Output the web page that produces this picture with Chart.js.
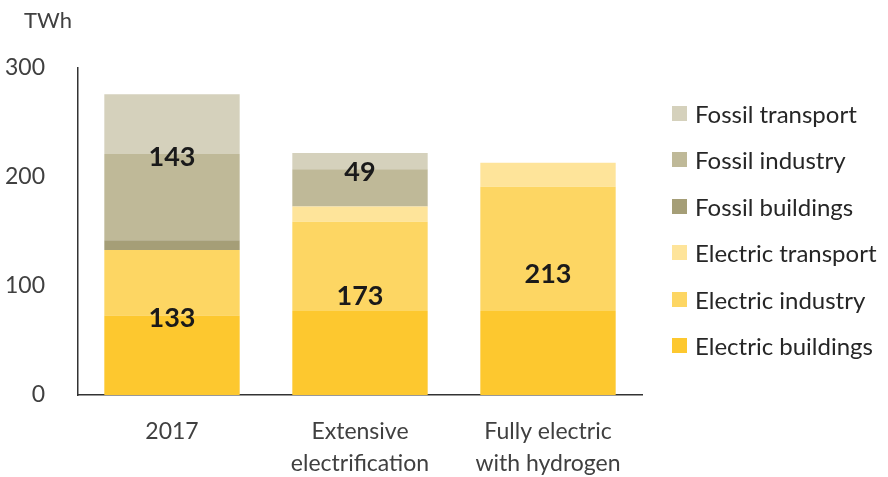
<!DOCTYPE html>
<html>
<head>
<meta charset="utf-8">
<script src="https://cdn.jsdelivr.net/npm/chart.js@4.4.1/dist/chart.umd.min.js"></script>
<style>
  html, body { margin: 0; padding: 0; background: #fff; }
  #wrap { position: relative; width: 888px; height: 477px; font-family: Lato, "Open Sans", sans-serif; }
  #legend { position: absolute; left: 672px; top: 90px; }
  .item { display: flex; align-items: center; height: 46.5px; font-size: 24px; color: #262626; white-space: nowrap; }
  .box { width: 15px; height: 15px; margin-right: 8px; }
</style>
</head>
<body>
<div id="wrap">
  <canvas id="chart"></canvas>
  <div id="legend"></div>
</div>
<script>
const categories = [['2017'], ['Extensive', 'electrification'], ['Fully electric', 'with hydrogen']];

const electricBuildings = [73, 77, 77];
const electricIndustry  = [60, 82, 114];
const electricTransport = [0, 14, 22];
const fossilBuildings   = [9, 0, 0];
const fossilIndustry    = [79, 34, 0];
const fossilTransport   = [55, 15, 0];

const electricTotals = [133, 173, 213];
const fossilTotals   = [143, 49, null];

const yTicks = [0, 100, 200, 300];

const series = [
  { label: 'Electric buildings', data: electricBuildings, color: '#fdc82f' },
  { label: 'Electric industry',  data: electricIndustry,  color: '#fdd663' },
  { label: 'Electric transport', data: electricTransport, color: '#fee49a' },
  { label: 'Fossil buildings',   data: fossilBuildings,   color: '#a59e77' },
  { label: 'Fossil industry',    data: fossilIndustry,    color: '#bfb998' },
  { label: 'Fossil transport',   data: fossilTransport,   color: '#d5d1bc' },
];

const FONT = 'Lato, "Open Sans", sans-serif';

// totals written on the bars + the TWh unit
const barLabels = {
  id: 'barLabels',
  afterDatasetsDraw(chart) {
    const { ctx, scales: { x, y } } = chart;
    ctx.save();
    ctx.fillStyle = '#1a1a1a';
    ctx.font = `bold 27px ${FONT}`;
    ctx.textAlign = 'center';
    ctx.textBaseline = 'middle';
    categories.forEach((c, i) => {
      const cx = x.getPixelForValue(i);
      ctx.fillText(String(electricTotals[i]), cx, y.getPixelForValue(electricTotals[i] * 0.5 + 4));
      if (fossilTotals[i] != null) {
        const top = electricTotals[i] + fossilBuildings[i] + fossilIndustry[i];
        ctx.fillText(String(fossilTotals[i]), cx, y.getPixelForValue(top - 3));
      }
    });
    ctx.font = `22px ${FONT}`;
    ctx.fillStyle = '#404040';
    ctx.textAlign = 'left';
    ctx.fillText('TWh', 24, 21);
    ctx.restore();
  }
};

new Chart(document.getElementById('chart'), {
  type: 'bar',
  data: {
    labels: categories,
    datasets: series.map(s => ({
      label: s.label,
      data: s.data,
      backgroundColor: s.color,
      borderWidth: 0,
      barPercentage: 0.72,
      categoryPercentage: 1,
    })),
  },
  options: {
    responsive: true,
    maintainAspectRatio: false,
    animation: false,
    layout: { padding: { top: 68, right: 246, bottom: 0, left: 0 } },
    plugins: {
      legend: { display: false },
      tooltip: { enabled: false },
    },
    scales: {
      x: {
        stacked: true,
        grid: { display: false },
        border: { color: '#333', width: 1.5 },
        ticks: { color: '#404040', font: { size: 23, family: FONT, lineHeight: 1.38 }, padding: 13 },
        afterFit: s => { s.height = 82; },
      },
      y: {
        stacked: true,
        min: 0,
        max: 300,
        grid: { display: false },
        border: { color: '#333', width: 1.5 },
        afterBuildTicks: s => { s.ticks = yTicks.map(v => ({ value: v })); },
        ticks: { color: '#404040', font: { size: 23, family: FONT }, padding: 25 },
        afterFit: s => { s.width = 78; },
      },
    },
  },
  plugins: [barLabels],
});

// legend, top to bottom = stack order reversed
const legend = document.getElementById('legend');
series.slice().reverse().forEach(s => {
  const row = document.createElement('div');
  row.className = 'item';
  row.innerHTML = `<span class="box" style="background:${s.color}"></span>${s.label}`;
  legend.appendChild(row);
});
</script>
</body>
</html>
